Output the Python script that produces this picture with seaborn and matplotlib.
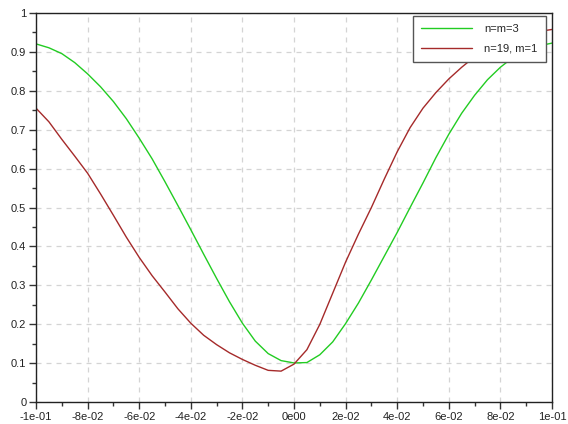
import numpy as np
import pandas as pd
import seaborn as sns
import matplotlib.pyplot as plt
from matplotlib.ticker import FixedLocator, MultipleLocator

# sample positions and the two curves
x = [-0.100, -0.095, -0.090, -0.085, -0.080, -0.075, -0.070, -0.065, -0.060, -0.055,
     -0.050, -0.045, -0.040, -0.035, -0.030, -0.025, -0.020, -0.015, -0.010, -0.005,
     0.000, 0.005, 0.010, 0.015, 0.020, 0.025, 0.030, 0.035, 0.040, 0.045,
     0.050, 0.055, 0.060, 0.065, 0.070, 0.075, 0.080, 0.085, 0.090, 0.095, 0.100]

green = [0.920, 0.910, 0.895, 0.872, 0.843, 0.810, 0.772, 0.728, 0.678, 0.625,
         0.566, 0.505, 0.443, 0.380, 0.318, 0.258, 0.203, 0.157, 0.125, 0.107,
         0.101, 0.102, 0.122, 0.155, 0.202, 0.255, 0.314, 0.375, 0.436, 0.500,
         0.563, 0.628, 0.688, 0.742, 0.788, 0.828, 0.860, 0.886, 0.904, 0.915, 0.922]

red = [0.755, 0.720, 0.675, 0.632, 0.588, 0.535, 0.480, 0.424, 0.372, 0.325,
       0.283, 0.240, 0.203, 0.172, 0.148, 0.127, 0.110, 0.095, 0.082, 0.080,
       0.098, 0.135, 0.200, 0.280, 0.360, 0.432, 0.500, 0.573, 0.643, 0.705,
       0.755, 0.795, 0.830, 0.860, 0.887, 0.908, 0.925, 0.937, 0.946, 0.952, 0.957]

labels = ["n=m=3", "n=19, m=1"]

xticks = [-0.1, -0.08, -0.06, -0.04, -0.02, 0.0, 0.02, 0.04, 0.06, 0.08, 0.1]
xticklabels = ["-1e-01", "-8e-02", "-6e-02", "-4e-02", "-2e-02", "0e00",
               "2e-02", "4e-02", "6e-02", "8e-02", "1e-01"]
yticks = [0, 0.1, 0.2, 0.3, 0.4, 0.5, 0.6, 0.7, 0.8, 0.9, 1.0]
yticklabels = ["0", "0.1", "0.2", "0.3", "0.4", "0.5", "0.6", "0.7", "0.8", "0.9", "1"]

sns.set_style("white")
plt.rcParams['font.family'] = ['Liberation Sans', 'DejaVu Sans']

fig = plt.figure(figsize=(5.68, 4.24), dpi=100)
ax = fig.add_axes([0.0634, 0.0512, 0.9084, 0.9188])

sns.lineplot(x=x, y=green, color="#22cc22", linewidth=1.0, label=labels[0], ax=ax)
sns.lineplot(x=x, y=red, color="#a52a2a", linewidth=1.0, label=labels[1], ax=ax)

ax.set_xlim(-0.1, 0.1)
ax.set_ylim(0, 1)
ax.xaxis.set_major_locator(FixedLocator(xticks))
ax.set_xticklabels(xticklabels)
ax.xaxis.set_minor_locator(MultipleLocator(0.01))
ax.yaxis.set_major_locator(FixedLocator(yticks))
ax.set_yticklabels(yticklabels)
ax.yaxis.set_minor_locator(MultipleLocator(0.05))

ax.tick_params(which="major", direction="out", length=5, width=1, color="#333333",
               labelsize=8, labelcolor="#222222", pad=2,
               bottom=True, left=True)
ax.tick_params(which="minor", direction="out", length=3, width=1, color="#333333",
               bottom=True, left=True)

ax.grid(True, which="major", color="#d4d4d4", linestyle=(0, (4, 4)), linewidth=0.9)
ax.set_axisbelow(True)
for s in ax.spines.values():
    s.set_color("#222222")
    s.set_linewidth(1.0)

leg = ax.legend(loc="upper right", bbox_to_anchor=(0.988, 0.9915), fontsize=8,
                frameon=True, fancybox=False, edgecolor="#555555", framealpha=1,
                handlelength=4.6, handletextpad=1.1, borderpad=0.75, labelspacing=0.85,
                borderaxespad=0)
leg.get_frame().set_linewidth(1.0)

fig.savefig("out.png", dpi=100)
